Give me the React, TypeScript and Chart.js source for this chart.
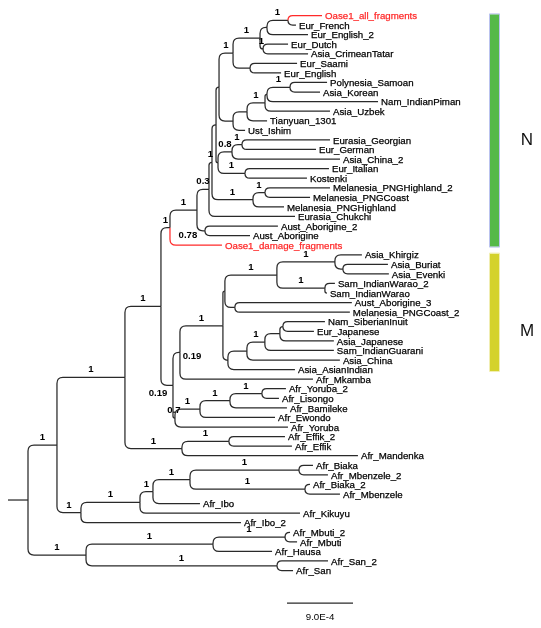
import React, { useEffect, useRef } from 'react';
import { Chart, registerables } from 'chart.js';

Chart.register(...registerables);

// ---------- DATA ----------
// Leaves, top to bottom
const leafNames = [
  'Oase1_all_fragments', 'Eur_French', 'Eur_English_2', 'Eur_Dutch', 'Asia_CrimeanTatar',
  'Eur_Saami', 'Eur_English', 'Polynesia_Samoan', 'Asia_Korean', 'Nam_IndianPiman',
  'Asia_Uzbek', 'Tianyuan_1301', 'Ust_Ishim', 'Eurasia_Georgian', 'Eur_German',
  'Asia_China_2', 'Eur_Italian', 'Kostenki', 'Melanesia_PNGHighland_2', 'Melanesia_PNGCoast',
  'Melanesia_PNGHighland', 'Eurasia_Chukchi', 'Aust_Aborigine_2', 'Aust_Aborigine', 'Oase1_damage_fragments',
  'Asia_Khirgiz', 'Asia_Buriat', 'Asia_Evenki', 'Sam_IndianWarao_2', 'Sam_IndianWarao',
  'Aust_Aborigine_3', 'Melanesia_PNGCoast_2', 'Nam_SiberianInuit', 'Eur_Japanese', 'Asia_Japanese',
  'Sam_IndianGuarani', 'Asia_China', 'Asia_AsianIndian', 'Afr_Mkamba', 'Afr_Yoruba_2',
  'Afr_Lisongo', 'Afr_Bamileke', 'Afr_Ewondo', 'Afr_Yoruba', 'Afr_Effik_2',
  'Afr_Effik', 'Afr_Mandenka', 'Afr_Biaka', 'Afr_Mbenzele_2', 'Afr_Biaka_2',
  'Afr_Mbenzele', 'Afr_Ibo', 'Afr_Kikuyu', 'Afr_Ibo_2', 'Afr_Mbuti_2',
  'Afr_Mbuti', 'Afr_Hausa', 'Afr_San_2', 'Afr_San',
];
const leafParents = [
  'nOF', 'nOF', 'nOFE', 'nDC', 'nDC',
  'nSE', 'nSE', 'nSK', 'nSK', 'nSKP',
  'nSKPU', 'nTia', 'nUst', 'nGG', 'nGG',
  'nGGC', 'nIK', 'nIK', 'nMelA', 'nMelA',
  'nMel', 'nF', 'nAus', 'nAus', 'nD',
  'nKBE', 'nBE', 'nBE', 'nWW', 'nWW',
  'nAP', 'nAP', 'nP2', 'nP2', 'nP1',
  'nP0', 'nP', 'nQ1', 'nH', 'nY',
  'nY', 'nX', 'nW', 'nV', 'nEff',
  'nEff', 'nT', 'nO', 'nO', 'nPp',
  'nPp', 'nM', 'nL', 'nK', 'nR',
  'nR', 'nQ', 'nS', 'nS',
];
// branch lengths, in units of 1e-4 substitutions/site
const leafLengths = [
  4.64, 1.09, 5.59, 3.41, 6.14,
  6.41, 4.23, 5.05, 4.09, 15.14,
  8.86, 2.73, 1.64, 12.0, 10.09,
  14.73, 11.45, 8.45, 8.86, 6.14,
  4.23, 11.73, 9.95, 6.14, 7.09,
  3.68, 6.14, 6.27, 1.36, 0.27,
  15.95, 15.68, 5.73, 4.23, 7.36,
  9.41, 12.68, 9.14, 18.14, 3.27,
  2.32, 7.77, 10.23, 15.41, 7.64,
  8.59, 24.0, 1.91, 3.95, 0.68,
  4.77, 6.41, 21.82, 21.82, 0.68,
  1.64, 8.05, 6.95, 2.18,
];

// Internal nodes
const nodeNames = [
  'root', 'nA', 'nZ', 'nB', 'nK', 'nC', 'nT', 'nEff', 'nD', 'nG',
  'nE', 'nF', 'nAus', 'nF2', 'nF4', 'nV0', 'nEU', 'nEU1', 'nOFE', 'nOF',
  'nDC', 'nSE', 'nUst', 'nTia', 'nSKPU', 'nSKP', 'nSK', 'nF3', 'nGGC', 'nGG',
  'nIK', 'nMel', 'nMelA', 'nH', 'nV', 'nI', 'nJ', 'nJ1', 'nKBE', 'nBE',
  'nWW', 'nAP', 'nQ1', 'nP', 'nP0', 'nP1', 'nP2', 'nW', 'nX', 'nY',
  'nL', 'nM', 'nN', 'nO', 'nPp', 'nQ', 'nR', 'nS',
];
const nodeParents = [
  null, 'root', 'root', 'nA', 'nA', 'nB', 'nB', 'nT', 'nC', 'nC',
  'nD', 'nE', 'nE', 'nF', 'nF2', 'nF4', 'nV0', 'nEU', 'nEU1', 'nOFE',
  'nEU1', 'nEU', 'nV0', 'nUst', 'nTia', 'nSKPU', 'nSKP', 'nF4', 'nF3', 'nGGC',
  'nF3', 'nF2', 'nMel', 'nG', 'nG', 'nH', 'nI', 'nJ', 'nJ1', 'nKBE',
  'nJ1', 'nJ', 'nI', 'nQ1', 'nP', 'nP0', 'nP1', 'nV', 'nW', 'nX',
  'nK', 'nL', 'nM', 'nN', 'nN', 'nZ', 'nQ', 'nZ',
];
const nodeLengths = [
  2.73, 3.95, 7.91, 9.27, 3.27, 4.91, 7.77, 6.41, 1.23, 1.64,
  3.68, 1.64, 1.09, 0.41, 0.55, 0.41, 1.91, 3.68, 0.95, 2.86,
  0.41, 2.32, 1.91, 1.91, 2.45, 0.27, 3.14, 0.27, 1.91, 1.36,
  3.68, 5.59, 1.64, 0.95, 0.27, 5.86, 0.27, 7.09, 7.91, 1.09,
  6.55, 1.36, 0.68, 2.59, 2.45, 2.05, 0.41, 3.41, 4.09, 4.36,
  8.05, 1.77, 5.05, 14.86, 15.68, 17.32, 9.82, 26.05,
];
const nodeSupport: (string | null)[] = [
  null, '1', '1', '1', '1', '1', '1', '1', '1', '0.19',
  '1', '0.3', '0.78', '1', null, null, '1', '1', null, '1',
  '1', null, null, null, '1', null, '1', null, '0.8', '1',
  '1', '1', '1', '0.19', '0.7', '1', null, '1', '1', null,
  '1', null, null, null, '1', null, null, '1', '1', '1',
  '1', '1', '1', '1', '1', '1', '1', '1',
];

const highlightedLeaves = ['Oase1_all_fragments', 'Oase1_damage_fragments'];

const cladeNames = ['N', 'M'];
const cladeFirstLeaf = ['Oase1_all_fragments', 'Asia_Khirgiz'];
const cladeLastLeaf = ['Oase1_damage_fragments', 'Asia_AsianIndian'];
const cladeLabelLeaf = ['Eurasia_Georgian', 'Eur_Japanese'];

const scaleBarValue = 9.0e-4;
const scaleBarLabel = '9.0E-4';

// ---------- STYLE / LAYOUT ----------
const UNIT = 1e-4;
const W = 525;
const H = 620;
const PX_PER_LEAF = 9.57;
const SUBST_PER_PX = 9.0e-4 / 66;
const X_MIN = -20 * SUBST_PER_PX;
const X_MAX = X_MIN + W * SUBST_PER_PX;
const Y_MIN = -7.5 / PX_PER_LEAF;
const Y_MAX = Y_MIN + H / PX_PER_LEAF;
const FONT = '9.7px "Liberation Sans", Arial, Helvetica, sans-serif';
const SUPPORT_FONT = 'bold 9.6px "Liberation Sans", Arial, Helvetica, sans-serif';
const LINE = '#2a2a2a';
const RED = '#ff2a2a';
const CLADE_COLORS = ['#55b948', '#d4d22c'];
const CLADE_EDGE = ['rgba(170,180,235,0.8)', 'rgba(240,236,170,0.9)'];
const labelNudge: Record<string, [number, number]> = {
  nAus: [-13, 12],
  nH: [15.5, 11.5],
  nG: [-9, 16],
};
const SCALE_BAR_START = 3.532e-3;

function buildTree() {
  const parent: Record<string, string | null> = {};
  const len: Record<string, number> = {};
  const support: Record<string, string | null> = {};
  const children: Record<string, string[]> = {};
  nodeNames.forEach((n, i) => {
    parent[n] = nodeParents[i];
    len[n] = nodeLengths[i] * UNIT;
    support[n] = nodeSupport[i];
  });
  leafNames.forEach((n, i) => {
    parent[n] = leafParents[i];
    len[n] = leafLengths[i] * UNIT;
    support[n] = null;
  });
  Object.keys(parent).forEach((n) => {
    const p = parent[n];
    if (p) (children[p] = children[p] || []).push(n);
  });
  const depth: Record<string, number> = {};
  const yIdx: Record<string, number> = {};
  leafNames.forEach((n, i) => (yIdx[n] = i));
  const visit = (n: string, d: number) => {
    depth[n] = d;
    const ch = children[n] || [];
    ch.forEach((c) => visit(c, d + len[c]));
    if (ch.length) {
      const ys = ch.map((c) => yIdx[c]);
      yIdx[n] = (Math.min(...ys) + Math.max(...ys)) / 2;
    }
  };
  visit('root', 0);
  return { parent, len, support, depth, yIdx };
}

export default function App() {
  const ref = useRef<HTMLCanvasElement>(null);

  useEffect(() => {
    const canvas = ref.current;
    if (!canvas) return;
    const t = buildTree();

    const treePlugin = {
      id: 'phyloTree',
      afterDraw(chart: any) {
        const ctx: CanvasRenderingContext2D = chart.ctx;
        const xs = chart.scales.x;
        const ys = chart.scales.y;
        const X = (v: number) => xs.getPixelForValue(v);
        const Y = (v: number) => ys.getPixelForValue(v);
        ctx.save();
        ctx.lineCap = 'butt';
        ctx.lineJoin = 'round';

        const drawBranch = (c: string) => {
          const p = t.parent[c] as string;
          const px = X(t.depth[p]);
          const py = Y(t.yIdx[p]);
          const cx = X(t.depth[c]);
          const cy = Y(t.yIdx[c]);
          ctx.beginPath();
          ctx.moveTo(px, py);
          const dy = cy - py;
          if (Math.abs(dy) > 0.5) {
            const r = Math.max(0, Math.min(6, Math.abs(dy), cx - px));
            const s = Math.sign(dy);
            ctx.lineTo(px, cy - s * r);
            ctx.quadraticCurveTo(px, cy, px + r, cy);
          }
          ctx.lineTo(cx, cy);
          ctx.stroke();
        };

        const all = [...nodeNames.filter((n) => n !== 'root'), ...leafNames];
        ctx.lineWidth = 1.25;
        ctx.strokeStyle = LINE;
        all.filter((n) => !highlightedLeaves.includes(n)).forEach(drawBranch);
        ctx.strokeStyle = RED;
        highlightedLeaves.forEach(drawBranch);

        // root stub
        ctx.strokeStyle = LINE;
        ctx.beginPath();
        ctx.moveTo(X(-t.len['root']), Y(t.yIdx['root']));
        ctx.lineTo(X(0), Y(t.yIdx['root']));
        ctx.stroke();

        // leaf labels
        ctx.font = FONT;
        ctx.textAlign = 'left';
        ctx.textBaseline = 'middle';
        ctx.lineWidth = 0.25;
        leafNames.forEach((n) => {
          const c = highlightedLeaves.includes(n) ? RED : '#000';
          ctx.fillStyle = c;
          ctx.strokeStyle = c;
          const lx = X(t.depth[n]) + 3;
          const ly = Y(t.yIdx[n]) + 1;
          ctx.fillText(n, lx, ly);
          ctx.strokeText(n, lx, ly);
        });

        // support labels
        ctx.fillStyle = '#000';
        ctx.font = SUPPORT_FONT;
        ctx.textAlign = 'center';
        ctx.textBaseline = 'alphabetic';
        nodeNames.forEach((n) => {
          const s = t.support[n];
          const p = t.parent[n];
          if (!s || !p) return;
          const mx = (X(t.depth[p]) + X(t.depth[n])) / 2;
          const my = Y(t.yIdx[n]) - 5;
          const nd = labelNudge[n] || [0, 0];
          ctx.fillText(s, mx + nd[0], my + nd[1]);
        });

        // clade bars
        cladeNames.forEach((name, i) => {
          const top = Y(leafNames.indexOf(cladeFirstLeaf[i]) - 0.12);
          const bot = Y(leafNames.indexOf(cladeLastLeaf[i]) + 0.15);
          ctx.fillStyle = CLADE_COLORS[i];
          ctx.fillRect(482, top, 9, bot - top);
          ctx.strokeStyle = CLADE_EDGE[i];
          ctx.lineWidth = 1;
          ctx.strokeRect(481.5, top - 0.5, 10, bot - top + 1);
          ctx.fillStyle = '#111';
          ctx.font = '17px "Liberation Sans", Arial, sans-serif';
          ctx.textAlign = 'center';
          ctx.textBaseline = 'middle';
          ctx.fillText(name, 519, Y(leafNames.indexOf(cladeLabelLeaf[i])));
        });

        // scale bar
        const sx0 = X(SCALE_BAR_START);
        const sx1 = X(SCALE_BAR_START + scaleBarValue);
        const sy = chart.chartArea.bottom - 25;
        ctx.strokeStyle = LINE;
        ctx.lineWidth = 1.25;
        ctx.beginPath();
        ctx.moveTo(sx0, sy);
        ctx.lineTo(sx1, sy);
        ctx.stroke();
        ctx.fillStyle = '#000';
        ctx.font = FONT;
        ctx.textAlign = 'center';
        ctx.textBaseline = 'middle';
        ctx.fillText(scaleBarLabel, (sx0 + sx1) / 2, sy + 14);

        ctx.restore();
      },
    };

    const chart = new Chart(canvas, {
      type: 'scatter',
      data: {
        datasets: [
          {
            data: leafNames.map((n) => ({ x: t.depth[n], y: t.yIdx[n] })),
            pointRadius: 0,
            showLine: false,
          },
        ],
      },
      options: {
        animation: false,
        responsive: false,
        events: [],
        layout: { padding: 0 },
        plugins: {
          legend: { display: false },
          tooltip: { enabled: false },
          title: { display: false },
        },
        scales: {
          x: { type: 'linear', display: false, min: X_MIN, max: X_MAX },
          y: { type: 'linear', display: false, reverse: true, min: Y_MIN, max: Y_MAX },
        },
      },
      plugins: [treePlugin],
    } as any);

    return () => chart.destroy();
  }, []);

  return (
    <div style={{ position: 'absolute', left: 8, top: 8, width: W, height: H }}>
      <canvas ref={ref} width={W} height={H} style={{ display: 'block', width: W, height: H }} />
    </div>
  );
}
